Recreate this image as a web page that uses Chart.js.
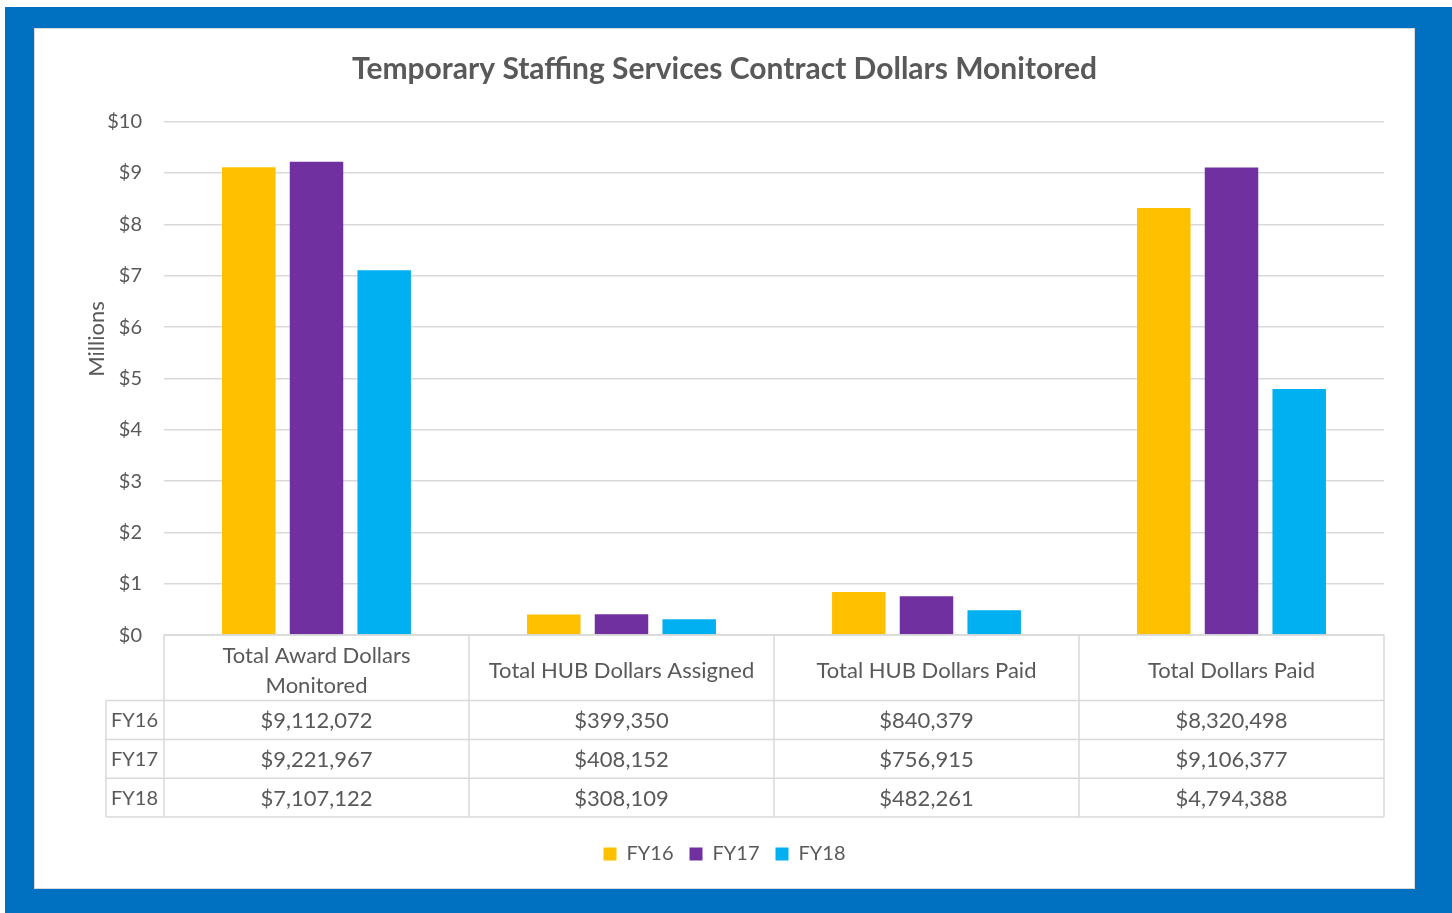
<!DOCTYPE html>
<html>
<head>
<meta charset="utf-8">
<script src="https://cdn.jsdelivr.net/npm/chart.js@4.4.0/dist/chart.umd.min.js"></script>
<style>
  html, body { margin: 0; padding: 0; background: #fff; }
  .frame { position: absolute; left: 5px; top: 7px; width: 1447px; height: 906px; background: #0070C0; }
  .panel { position: absolute; left: 34px; top: 28px; width: 1379px; height: 859px; background: #fff; border: 1px solid #D9D9D9; }
  #wrap { position: absolute; left: 0; top: 0; width: 1452px; height: 913px; }
</style>
</head>
<body>
<div class="frame"></div>
<div class="panel"></div>
<div id="wrap"><canvas id="chart"></canvas></div>
<script>
// data
const categories = ['Total Award Dollars Monitored', 'Total HUB Dollars Assigned', 'Total HUB Dollars Paid', 'Total Dollars Paid'];
const seriesNames = ['FY16', 'FY17', 'FY18'];
const fy16 = [9112072, 399350, 840379, 8320498];
const fy17 = [9221967, 408152, 756915, 9106377];
const fy18 = [7107122, 308109, 482261, 4794388];
const seriesColors = ['#FFC000', '#7030A0', '#00B0F0'];
const yTickValues = [0, 1, 2, 3, 4, 5, 6, 7, 8, 9, 10];

const allSeries = [fy16, fy17, fy18];
const textColor = '#595959';
const lineColor = '#D9D9D9';
const fontFamily = 'Lato, "Open Sans", sans-serif';

const money = v => '$' + v.toLocaleString('en-US');

// table under the plot + the rotated axis title
const dataTable = {
  id: 'dataTable',
  afterDraw(chart) {
    const ctx = chart.ctx;
    const area = chart.chartArea;
    const L = area.left, R = area.right, top = area.bottom;
    const colW = (R - L) / categories.length;
    const headH = 65.5, rowH = 38.8, labelLeft = 106;
    const bottom = top + headH + rowH * seriesNames.length;

    ctx.save();
    ctx.strokeStyle = lineColor;
    ctx.lineWidth = 1.5;
    ctx.beginPath();
    ctx.moveTo(L, top); ctx.lineTo(R, top);
    for (let i = 0; i <= seriesNames.length; i++) {
      const y = top + headH + rowH * i;
      ctx.moveTo(labelLeft, y); ctx.lineTo(R, y);
    }
    for (let k = 0; k <= categories.length; k++) {
      const x = L + colW * k;
      ctx.moveTo(x, top); ctx.lineTo(x, bottom);
    }
    ctx.moveTo(labelLeft, top + headH); ctx.lineTo(labelLeft, bottom);
    ctx.stroke();

    ctx.fillStyle = textColor;
    ctx.font = '22px ' + fontFamily;
    ctx.textBaseline = 'middle';
    ctx.textAlign = 'center';

    // header cells, wrapped to the column width
    categories.forEach((name, k) => {
      const cx = chart.scales.x.getPixelForValue(k);
      const words = name.split(' ');
      const lines = [];
      let cur = '';
      words.forEach(w => {
        const t = cur ? cur + ' ' + w : w;
        if (ctx.measureText(t).width > colW - 30 && cur) { lines.push(cur); cur = w; } else cur = t;
      });
      lines.push(cur);
      const lh = 30;
      const y0 = top + headH / 2 + 3 - (lines.length - 1) * lh / 2;
      lines.forEach((ln, j) => ctx.fillText(ln, cx, y0 + j * lh));
    });

    // value rows
    allSeries.forEach((vals, i) => {
      const cy = top + headH + rowH * i + rowH / 2 + 1;
      ctx.textAlign = 'left';
      ctx.font = '20px ' + fontFamily;
      ctx.fillText(seriesNames[i], labelLeft + 5, cy);
      ctx.textAlign = 'center';
      ctx.font = '22px ' + fontFamily;
      vals.forEach((v, k) => ctx.fillText(money(v), chart.scales.x.getPixelForValue(k), cy));
    });

    // y axis title
    ctx.font = '22px ' + fontFamily;
    ctx.translate(97, 339);
    ctx.rotate(-Math.PI / 2);
    ctx.textAlign = 'center';
    ctx.fillText('Millions', 0, 0);
    ctx.restore();
  }
};

new Chart(document.getElementById('chart'), {
  type: 'bar',
  data: {
    labels: categories,
    datasets: seriesNames.map((name, i) => ({
      label: name,
      data: allSeries[i].map(v => v / 1e6),
      backgroundColor: seriesColors[i],
      categoryPercentage: 0.666,
      barPercentage: 0.79
    }))
  },
  options: {
    responsive: true,
    maintainAspectRatio: false,
    animation: false,
    layout: { padding: { left: 35, right: 38, top: 29, bottom: 39 } },
    scales: {
      x: {
        ticks: { display: false },
        grid: { display: false },
        border: { display: false },
        afterFit: s => { s.height = 192.9; }
      },
      y: {
        min: 0,
        max: 10,
        afterBuildTicks: s => { s.ticks = yTickValues.map(v => ({ value: v })); },
        ticks: {
          color: textColor,
          font: { family: fontFamily, size: 20 },
          padding: 22,
          callback: v => '$' + v
        },
        grid: { color: lineColor, lineWidth: 1.5, drawTicks: false },
        border: { display: false },
        afterFit: s => { s.width = 129; }
      },
      // empty right gutter so title and legend centre on the panel
      gutter: {
        type: 'linear',
        position: 'right',
        ticks: { display: false },
        grid: { display: false },
        border: { display: false },
        afterFit: s => { s.width = 30; }
      }
    },
    plugins: {
      title: {
        display: true,
        text: 'Temporary Staffing Services Contract Dollars Monitored',
        color: textColor,
        font: { family: fontFamily, size: 30, weight: 'bold' },
        padding: { top: 22, bottom: 34.7 }
      },
      legend: {
        position: 'bottom',
        labels: {
          color: textColor,
          font: { family: fontFamily, size: 20 },
          boxWidth: 13,
          boxHeight: 13,
          padding: 16
        }
      },
      tooltip: { enabled: false }
    }
  },
  plugins: [dataTable]
});
</script>
</body>
</html>
